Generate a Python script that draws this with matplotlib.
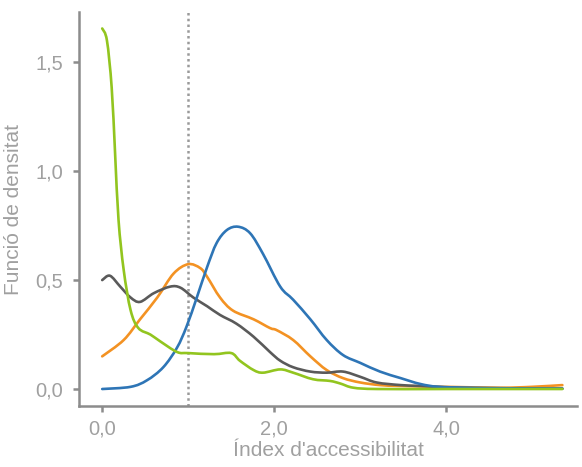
import matplotlib
matplotlib.use('Agg')
import numpy as np
import matplotlib.pyplot as plt
from matplotlib.path import Path
from matplotlib.patches import PathPatch
from matplotlib.ticker import FuncFormatter

plt.rcParams['font.family'] = ['Liberation Sans', 'DejaVu Sans']

# corbes de densitat llegides de la imatge (x, densitat)
green_x = [0.0, 0.055, 0.11, 0.15, 0.19, 0.25, 0.33, 0.42, 0.56, 0.67, 0.87, 1.0, 1.3, 1.5,
           1.6, 1.76, 1.87, 2.07, 2.22, 2.45, 2.65, 2.77, 2.92, 3.2, 4.0, 5.35]
green_y = [1.655, 1.60, 1.385, 1.08, 0.775, 0.546, 0.362, 0.28, 0.25, 0.22, 0.17, 0.165, 0.16,
           0.165, 0.13, 0.087, 0.075, 0.09, 0.075, 0.045, 0.037, 0.025, 0.006, 0.0, 0.0, 0.0]

blue_x = [0.0, 0.33, 0.52, 0.71, 0.87, 0.98, 1.10, 1.22, 1.33, 1.45, 1.58, 1.72, 1.87,
          2.07, 2.22, 2.42, 2.61, 2.80, 3.0, 3.23, 3.47, 3.70, 3.93, 4.5, 5.35]
blue_y = [0.0, 0.01, 0.04, 0.10, 0.19, 0.286, 0.42, 0.56, 0.67, 0.73, 0.745, 0.715, 0.62,
          0.47, 0.41, 0.32, 0.225, 0.156, 0.12, 0.08, 0.05, 0.023, 0.01, 0.004, 0.002]

orange_x = [0.0, 0.25, 0.44, 0.64, 0.83, 1.0, 1.14, 1.22, 1.37, 1.52, 1.76, 1.95,
            2.03, 2.22, 2.42, 2.61, 2.80, 3.0, 3.23, 3.47, 4.0, 4.63, 5.0, 5.35]
orange_y = [0.15, 0.225, 0.32, 0.42, 0.53, 0.573, 0.555, 0.515, 0.42, 0.36, 0.32, 0.28,
            0.27, 0.225, 0.15, 0.087, 0.05, 0.03, 0.018, 0.014, 0.01, 0.006, 0.01, 0.018]

grey_x = [0.0, 0.09, 0.21, 0.33, 0.44, 0.6, 0.79, 0.91, 1.06, 1.22, 1.37, 1.56, 1.76,
          1.95, 2.07, 2.22, 2.42, 2.61, 2.80, 3.0, 3.19, 3.47, 3.70, 4.2, 5.35]
grey_y = [0.5, 0.52, 0.47, 0.42, 0.40, 0.44, 0.47, 0.465, 0.42, 0.38, 0.34, 0.30, 0.24,
          0.17, 0.13, 0.10, 0.08, 0.075, 0.08, 0.056, 0.03, 0.018, 0.014, 0.005, 0.002]

llindar = 1.0
x_ticks = [0, 2, 4]
y_ticks = [0, 0.5, 1.0, 1.5]


def corba_suau(ax, xs, ys, color, lw, z):
    # traça els punts amb corbes de Bezier (estil Catmull-Rom)
    p = np.column_stack([xs, ys]).astype(float)
    verts = [p[0]]
    codes = [Path.MOVETO]
    n = len(p)
    for i in range(n - 1):
        p0 = p[i - 1] if i > 0 else p[i]
        p3 = p[i + 2] if i + 2 < n else p[i + 1]
        c1 = p[i] + (p[i + 1] - p0) / 6.0
        c2 = p[i + 1] - (p3 - p[i]) / 6.0
        verts += [c1, c2, p[i + 1]]
        codes += [Path.CURVE4] * 3
    ax.add_patch(PathPatch(Path(verts, codes), facecolor='none', edgecolor=color,
                           linewidth=lw, capstyle='round', joinstyle='round', zorder=z))


fig = plt.figure(figsize=(5.82, 4.67), dpi=100)
ax = fig.add_axes([0.1357, 0.1306, 0.8557, 0.8434])

ax.axvline(llindar, color='#9a9a9a', linestyle=(0, (1, 1.3)), linewidth=1.8, zorder=1)

lw = 1.9
corba_suau(ax, orange_x, orange_y, '#F39223', lw, 3)
corba_suau(ax, grey_x, grey_y, '#5a5a5a', lw, 3)
corba_suau(ax, blue_x, blue_y, '#2E75B6', lw, 3)
corba_suau(ax, green_x, green_y, '#92C51F', lw, 4)

ax.set_xlim(-0.27, 5.52)
ax.set_ylim(-0.078, 1.73)
ax.set_xticks(x_ticks)
ax.set_yticks(y_ticks)
coma = FuncFormatter(lambda v, p: f'{v:.1f}'.replace('.', ','))
ax.xaxis.set_major_formatter(coma)
ax.yaxis.set_major_formatter(coma)

for s in ['top', 'right']:
    ax.spines[s].set_visible(False)
for s in ['left', 'bottom']:
    ax.spines[s].set_color('#8c8c8c')
    ax.spines[s].set_linewidth(1.8)

ax.tick_params(axis='both', colors='#8c8c8c', width=1.8, length=4.5,
               labelcolor='#a0a0a0', labelsize=14.5)
ax.tick_params(axis='y', pad=7)
ax.tick_params(axis='x', pad=5)

ax.set_xlabel("Índex d'accessibilitat", fontsize=15, color='#a0a0a0', labelpad=2)
ax.set_ylabel('Funció de densitat', fontsize=15, color='#a0a0a0', labelpad=9)

fig.savefig('out.png', dpi=100)
